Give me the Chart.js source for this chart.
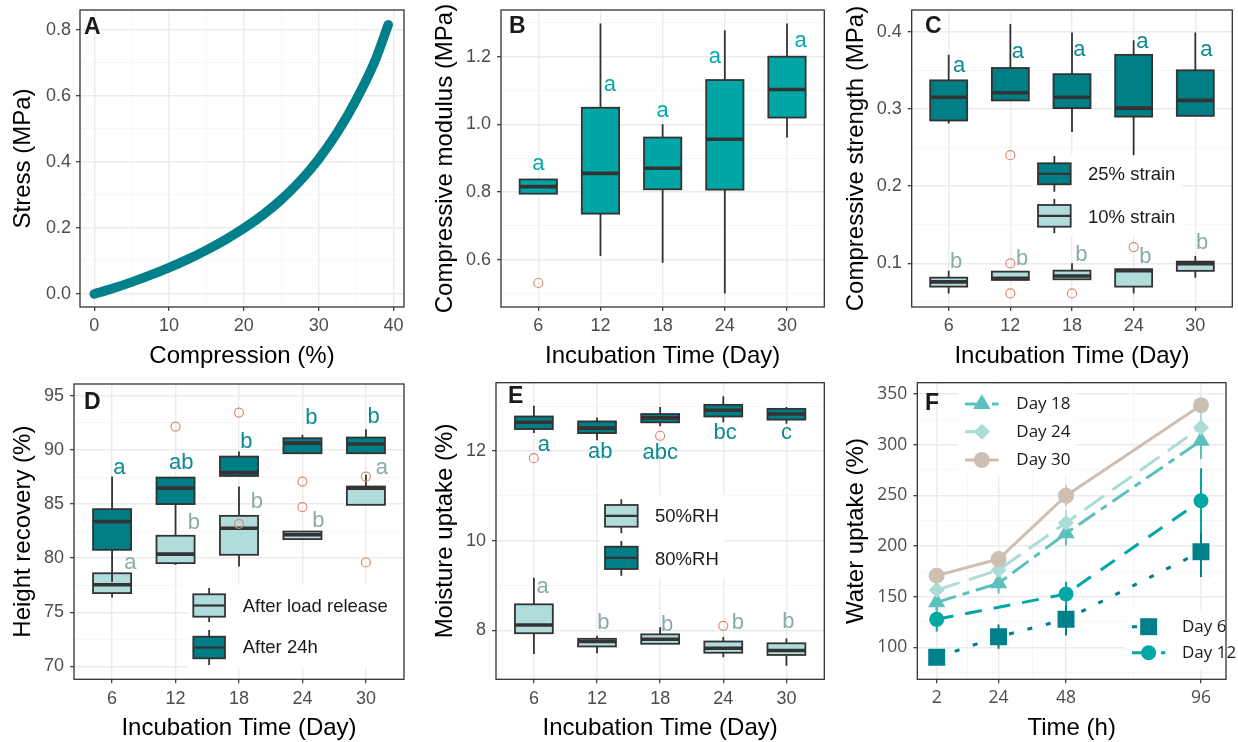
<!DOCTYPE html>
<html>
<head>
<meta charset="utf-8">
<script src="https://cdn.jsdelivr.net/npm/chart.js"></script>
<style>
  html, body { margin: 0; padding: 0; background: #ffffff; }
  #figure { position: relative; width: 1238px; height: 742px; overflow: hidden; background: #ffffff; }
  #figure canvas { position: absolute; }
</style>
</head>
<body>
<div id="figure">
  <canvas id="panelA" width="410" height="370" style="left:0px;top:0px"></canvas>
  <canvas id="panelB" width="420" height="370" style="left:410px;top:0px"></canvas>
  <canvas id="panelC" width="408" height="370" style="left:830px;top:0px"></canvas>
  <canvas id="panelD" width="410" height="372" style="left:0px;top:370px"></canvas>
  <canvas id="panelE" width="420" height="372" style="left:410px;top:370px"></canvas>
  <canvas id="panelF" width="408" height="372" style="left:830px;top:370px"></canvas>
</div>
<script>
// ---------------- data ----------------
const incubationDays = ['6', '12', '18', '24', '30'];

// A: stress-compression curve
const compression = [0, 2.5, 5, 7.5, 10, 12.5, 15, 17.5, 20, 22.5, 25, 27.5, 30, 32.5, 35, 37.5, 39.3];
const stress      = [0, 0.017, 0.036, 0.057, 0.080, 0.105, 0.133, 0.164, 0.199, 0.239, 0.286, 0.342, 0.409, 0.490, 0.588, 0.705, 0.816];

// B: compressive modulus (MPa), five-number summaries per incubation day
const modulusLow  = [0.795, 0.611, 0.591, 0.500, 0.961];
const modulusQ1   = [0.795, 0.736, 0.808, 0.807, 1.020];
const modulusMed  = [0.816, 0.855, 0.870, 0.956, 1.103];
const modulusQ3   = [0.837, 1.049, 0.961, 1.131, 1.200];
const modulusHigh = [0.837, 1.298, 1.000, 1.278, 1.298];
const modulusOutDay = [1];
const modulusOutVal = [0.531];
const modulusSig  = ['a', 'a', 'a', 'a', 'a'];
const modulusSigY = [0.882, 1.115, 1.041, 1.200, 1.248];

// C: compressive strength (MPa) at 25 % and 10 % strain
const strength25Low  = [0.281, 0.311, 0.270, 0.240, 0.291];
const strength25Q1   = [0.285, 0.311, 0.301, 0.290, 0.291];
const strength25Med  = [0.315, 0.321, 0.315, 0.301, 0.311];
const strength25Q3   = [0.337, 0.353, 0.345, 0.370, 0.350];
const strength25High = [0.370, 0.410, 0.399, 0.389, 0.399];
const strength10Low  = [0.061, 0.0785, 0.0793, 0.061, 0.0814];
const strength10Q1   = [0.0698, 0.0785, 0.0793, 0.0698, 0.0902];
const strength10Med  = [0.076, 0.0805, 0.0835, 0.0905, 0.0995];
const strength10Q3   = [0.0814, 0.0892, 0.0905, 0.0923, 0.1022];
const strength10High = [0.0905, 0.0892, 0.100, 0.0923, 0.1096];
const strengthOutDay = [2, 2, 2, 3, 4];
const strengthOutVal = [0.240, 0.100, 0.061, 0.061, 0.121];
const strength25Sig  = ['a', 'a', 'a', 'a', 'a'];
const strength25SigY = [0.355, 0.374, 0.377, 0.387, 0.376];
const strength10Sig  = ['b', 'b', 'b', 'b', 'b'];
const strength10SigY = [0.1022, 0.1053, 0.1108, 0.1086, 0.1267];

// D: height recovery (%)
const releaseLow  = [76.37, 79.38, 79.23, 81.76, 84.93];
const releaseQ1   = [76.77, 79.54, 80.31, 81.76, 84.93];
const releaseMed  = [77.54, 80.37, 82.77, 82.16, 86.47];
const releaseQ3   = [78.60, 82.07, 83.91, 82.46, 86.62];
const releaseHigh = [78.60, 82.07, 86.62, 82.46, 87.70];
const after24Low  = [77.80, 82.07, 87.60, 89.70, 89.70];
const after24Q1   = [80.77, 85.00, 87.60, 89.70, 89.70];
const after24Med  = [83.39, 86.47, 87.91, 90.63, 90.55];
const after24Q3   = [84.53, 87.45, 89.39, 91.09, 91.15];
const after24High = [87.54, 87.45, 89.85, 91.40, 91.92];
const recoveryOutDay = [2, 3, 3, 4, 4, 5, 5];
const recoveryOutVal = [92.16, 93.46, 83.17, 87.08, 84.72, 87.54, 79.60];
const after24Sig  = ['a', 'ab', 'b', 'b', 'b'];
const after24SigY = [88.32, 88.84, 90.78, 92.94, 93.03];
const releaseSig  = ['a', 'b', 'b', 'b', 'a'];
const releaseSigY = [79.60, 83.29, 85.24, 83.48, 88.32];

// E: moisture uptake (%)
const rh80Low  = [12.40, 12.24, 12.55, 12.64, 12.61];
const rh80Q1   = [12.49, 12.40, 12.64, 12.77, 12.70];
const rh80Med  = [12.64, 12.51, 12.74, 12.91, 12.825];
const rh80Q3   = [12.77, 12.66, 12.825, 13.03, 12.94];
const rh80High = [13.01, 12.75, 12.98, 13.22, 12.98];
const rh50Low  = [7.47, 7.49, 7.70, 7.40, 7.21];
const rh50Q1   = [7.935, 7.64, 7.70, 7.50, 7.45];
const rh50Med  = [8.12, 7.75, 7.80, 7.60, 7.55];
const rh50Q3   = [8.58, 7.81, 7.91, 7.75, 7.71];
const rh50High = [9.175, 7.88, 8.07, 7.85, 7.82];
const moistureOutDay = [1, 3, 4];
const moistureOutVal = [11.84, 12.34, 8.10];
const rh80Sig  = ['a', 'ab', 'abc', 'bc', 'c'];
const rh80SigY = [12.14, 11.99, 11.955, 12.40, 12.40];
const rh50Sig  = ['a', 'b', 'b', 'b', 'b'];
const rh50SigY = [8.96, 8.16, 8.12, 8.16, 8.19];

// F: water uptake (%) over soaking time, mean and SD per incubation day
const waterHours  = [2, 24, 48, 96];
const day6Uptake  = [90.1, 110.5, 127.6, 194.3];
const day6Sd      = [4, 12, 16, 25];
const day12Uptake = [127.6, null, 152.6, 244.7];
const day12Sd     = [12, null, 12, 32];
const day18Uptake = [144.4, 163.2, 212.5, 303.9];
const day18Sd     = [10, 10, 12, 18];
const day24Uptake = [156.5, 176.3, 223.0, 317.0];
const day24Sd     = [8, 8, 12, 17];
const day30Uptake = [170.7, 187.1, 249.6, 339.0];
const day30Sd     = [5, 5, 10, 5];

// ---------------- styling ----------------
const SANS = '"Liberation Sans", Arial, Helvetica, sans-serif';
const OPEN = '"Open Sans", "Liberation Sans", sans-serif';
const INK = '#333333';
const GRID_MAJOR = '#ebebeb';
const GRID_MINOR = '#f4f4f4';
const OUTLIER = '#d98b74';
const TEAL_DARK = '#007e86';
const TEAL_MID = '#00a6a6';
const TEAL_LIGHT = '#b0dcdb';
const SIG_MID = '#00abab';
const SIG_DARK = '#0c8993';
const SIG_LIGHT = '#88aca9';

Chart.defaults.font.family = SANS;

// Linear axis with ggplot-like major/minor grid and fixed box size.
function linearAxis(o) {
  const key = v => Math.round(v * 1e6);
  const majors = new Set(o.major.map(key));
  const isMajor = v => majors.has(key(v));
  const values = o.major.concat(o.minor || []).sort((a, b) => a - b);
  const horiz = o.pos === 'x';
  const tickMajor = c => !!(c && c.tick && isMajor(c.tick.value));
  return {
    type: 'linear',
    position: horiz ? 'bottom' : 'left',
    min: o.min, max: o.max,
    afterBuildTicks: s => { s.ticks = values.map(v => ({ value: v })); },
    afterFit: s => {
      if (horiz) s.height = o.size; else s.width = o.size;
      s.paddingTop = 0; s.paddingBottom = 0; s.paddingLeft = 0; s.paddingRight = 0;
    },
    border: { display: false },
    grid: {
      color: c => tickMajor(c) ? GRID_MAJOR : GRID_MINOR,
      lineWidth: c => tickMajor(c) ? 1.4 : 0.8,
      tickColor: c => tickMajor(c) ? INK : 'rgba(0,0,0,0)',
      tickWidth: 1.2,
      tickLength: 4,
      drawTicks: true
    },
    ticks: {
      autoSkip: false, maxRotation: 0, minRotation: 0,
      padding: o.tickPad,
      color: '#4d4d4d',
      font: { size: o.tickSize || 18, family: o.tickFamily || SANS },
      callback: v => isMajor(v) ? o.fmt(v) : ''
    },
    title: {
      display: true, text: o.title, color: '#000000',
      font: { size: 24, family: SANS },
      padding: horiz ? { top: 0, bottom: o.titlePad } : { top: o.titlePad, bottom: 0 }
    }
  };
}

// Panel frame and tag letter.
function framePlugin(tag, tx, ty) {
  return {
    id: 'frame',
    afterDraw(chart) {
      const { ctx, chartArea: a } = chart;
      ctx.save();
      ctx.strokeStyle = INK;
      ctx.lineWidth = 1.3;
      ctx.strokeRect(a.left, a.top, a.right - a.left, a.bottom - a.top);
      ctx.fillStyle = '#1a1a1a';
      ctx.font = 'bold 23px ' + SANS;
      ctx.textAlign = 'left';
      ctx.textBaseline = 'alphabetic';
      ctx.fillText(tag, tx, ty);
      ctx.restore();
    }
  };
}

// Box-and-whisker series drawn through the chart scales.
function drawBoxSeries(chart, s) {
  const { ctx, scales: { x, y } } = chart;
  ctx.save();
  s.med.forEach((m, i) => {
    const cx = x.getPixelForValue(i + 1);
    const hw = x.getPixelForValue(i + 1 + 0.3) - cx;
    const yLow = y.getPixelForValue(s.low[i]);
    const yQ1 = y.getPixelForValue(s.q1[i]);
    const yMed = y.getPixelForValue(m);
    const yQ3 = y.getPixelForValue(s.q3[i]);
    const yHigh = y.getPixelForValue(s.high[i]);
    ctx.strokeStyle = INK;
    ctx.lineWidth = 1.8;
    ctx.beginPath();
    ctx.moveTo(cx, yHigh); ctx.lineTo(cx, yQ3);
    ctx.moveTo(cx, yQ1); ctx.lineTo(cx, yLow);
    ctx.stroke();
    ctx.fillStyle = s.fill;
    ctx.fillRect(cx - hw, yQ3, 2 * hw, yQ1 - yQ3);
    ctx.strokeRect(cx - hw, yQ3, 2 * hw, yQ1 - yQ3);
    ctx.lineWidth = 3.6;
    ctx.beginPath();
    ctx.moveTo(cx - hw, yMed); ctx.lineTo(cx + hw, yMed);
    ctx.stroke();
  });
  ctx.restore();
}

function drawLetters(chart, g) {
  const { ctx, scales: { x, y } } = chart;
  ctx.save();
  ctx.fillStyle = g.color;
  ctx.font = '22px ' + SANS;
  ctx.textAlign = 'center';
  ctx.textBaseline = 'middle';
  g.text.forEach((t, i) => {
    ctx.fillText(t, x.getPixelForValue(i + 1 + g.nudge[i]), y.getPixelForValue(g.y[i]));
  });
  ctx.restore();
}

function drawBoxLegend(ctx, lg) {
  ctx.save();
  lg.items.forEach(it => {
    const cx = (lg.x0 + lg.x1) / 2;
    const ym = (it.bt + it.bb) / 2;
    ctx.strokeStyle = INK;
    ctx.lineWidth = 1.8;
    ctx.beginPath();
    ctx.moveTo(cx, it.wt); ctx.lineTo(cx, it.bt);
    ctx.moveTo(cx, it.bb); ctx.lineTo(cx, it.wb);
    ctx.stroke();
    ctx.fillStyle = it.fill;
    ctx.fillRect(lg.x0, it.bt, lg.x1 - lg.x0, it.bb - it.bt);
    ctx.strokeRect(lg.x0, it.bt, lg.x1 - lg.x0, it.bb - it.bt);
    ctx.lineWidth = 2.2;
    ctx.beginPath();
    ctx.moveTo(lg.x0, ym); ctx.lineTo(lg.x1, ym);
    ctx.stroke();
    ctx.fillStyle = '#1a1a1a';
    ctx.font = '18.5px ' + SANS;
    ctx.textAlign = 'left';
    ctx.textBaseline = 'middle';
    ctx.fillText(it.label, lg.tx, it.ty);
  });
  ctx.restore();
}

function boxPlotPlugin(series, letters, legend) {
  return {
    id: 'boxplot',
    beforeDatasetsDraw(chart) {
      const ctx = chart.ctx;
      ctx.save();
      ctx.fillStyle = '#ffffff';
      ctx.fillRect(legend.bg[0], legend.bg[1], legend.bg[2], legend.bg[3]);
      ctx.restore();
      series.forEach(s => drawBoxSeries(chart, s));
    },
    afterDatasetsDraw(chart) {
      letters.forEach(g => drawLetters(chart, g));
    },
    afterDraw(chart) {
      drawBoxLegend(chart.ctx, legend);
    }
  };
}

function outlierDataset(days, vals) {
  return {
    type: 'scatter',
    data: days.map((d, i) => ({ x: d, y: vals[i] })),
    pointStyle: 'circle',
    pointRadius: 4.5,
    pointBorderWidth: 1.2,
    pointBorderColor: OUTLIER,
    pointBackgroundColor: 'rgba(0,0,0,0)',
    showLine: false
  };
}

function buildPanel(id, area, cfg) {
  const canvas = document.getElementById(id);
  const w = canvas.width, h = canvas.height;
  return new Chart(canvas, {
    type: cfg.type,
    data: { datasets: cfg.datasets },
    options: {
      responsive: false,
      animation: false,
      devicePixelRatio: 1,
      events: [],
      layout: { padding: { left: 0, top: area.t, right: w - area.r, bottom: 0 } },
      plugins: { legend: { display: false }, tooltip: { enabled: false } },
      scales: {
        x: linearAxis(Object.assign({ pos: 'x', size: h - area.b }, cfg.x)),
        y: linearAxis(Object.assign({ pos: 'y', size: area.l }, cfg.y))
      }
    },
    plugins: cfg.plugins
  });
}

const dayAxis = {
  min: 0.4, max: 5.6, major: [1, 2, 3, 4, 5], minor: [],
  fmt: v => incubationDays[Math.round(v) - 1],
  title: 'Incubation Time (Day)', tickPad: 4.5, titlePad: -1
};
const fixed1 = v => v.toFixed(1);
const whole = v => String(Math.round(v));

// ---------------- A ----------------
buildPanel('panelA', { l: 80, t: 10, r: 404, b: 307 }, {
  type: 'line',
  datasets: [{
    data: compression.map((c, i) => ({ x: c, y: stress[i] })),
    borderColor: '#00808a',
    borderWidth: 9.5,
    borderCapStyle: 'round',
    borderJoinStyle: 'round',
    cubicInterpolationMode: 'monotone',
    pointRadius: 0,
    fill: false
  }],
  x: { min: -1.9, max: 41.4, major: [0, 10, 20, 30, 40], minor: [5, 15, 25, 35], fmt: whole,
       title: 'Compression (%)', tickPad: 4.5, titlePad: -1 },
  y: { min: -0.0394, max: 0.8606, major: [0, 0.2, 0.4, 0.6, 0.8], minor: [0.1, 0.3, 0.5, 0.7], fmt: fixed1,
       title: 'Stress (MPa)', tickPad: 5, titlePad: 8.6 },
  plugins: [framePlugin('A', 84, 34)]
});

// ---------------- B ----------------
buildPanel('panelB', { l: 91, t: 10, r: 415, b: 307 }, {
  type: 'scatter',
  datasets: [outlierDataset(modulusOutDay, modulusOutVal)],
  x: dayAxis,
  y: { min: 0.460, max: 1.338, major: [0.6, 0.8, 1.0, 1.2], minor: [0.5, 0.7, 0.9, 1.1, 1.3], fmt: fixed1,
       title: 'Compressive modulus (MPa)', tickPad: 6, titlePad: 20.6 },
  plugins: [
    {
      id: 'modulusBoxes',
      beforeDatasetsDraw(chart) {
        drawBoxSeries(chart, { low: modulusLow, q1: modulusQ1, med: modulusMed, q3: modulusQ3, high: modulusHigh, fill: TEAL_MID });
      },
      afterDatasetsDraw(chart) {
        drawLetters(chart, { text: modulusSig, y: modulusSigY, nudge: [0, 0.15, 0, -0.16, 0.22], color: SIG_MID });
      }
    },
    framePlugin('B', 99, 33)
  ]
});

// ---------------- C ----------------
buildPanel('panelC', { l: 81.7, t: 10, r: 406.7, b: 307 }, {
  type: 'scatter',
  datasets: [outlierDataset(strengthOutDay, strengthOutVal)],
  x: dayAxis,
  y: { min: 0.0434, max: 0.4281, major: [0.1, 0.2, 0.3, 0.4], minor: [0.05, 0.15, 0.25, 0.35], fmt: fixed1,
       title: 'Compressive strength (MPa)', tickPad: 6, titlePad: 12.3 },
  plugins: [
    boxPlotPlugin(
      [
        { low: strength10Low, q1: strength10Q1, med: strength10Med, q3: strength10Q3, high: strength10High, fill: TEAL_LIGHT },
        { low: strength25Low, q1: strength25Q1, med: strength25Med, q3: strength25Q3, high: strength25High, fill: TEAL_DARK }
      ],
      [
        { text: strength25Sig, y: strength25SigY, nudge: [0.17, 0.12, 0.12, 0.14, 0.18], color: SIG_DARK },
        { text: strength10Sig, y: strength10SigY, nudge: [0.12, 0.19, 0.15, 0.19, 0.11], color: SIG_LIGHT }
      ],
      {
        bg: [203, 154, 149, 82], x0: 208, x1: 240.7, tx: 258,
        items: [
          { label: '25% strain', fill: TEAL_DARK, wt: 156, bt: 163.3, bb: 184.3, wb: 191.7, ty: 175 },
          { label: '10% strain', fill: TEAL_LIGHT, wt: 199, bt: 205, bb: 226.7, wb: 233.3, ty: 217.5 }
        ]
      }
    ),
    framePlugin('C', 95, 33)
  ]
});

// ---------------- D ----------------
buildPanel('panelD', { l: 74, t: 14, r: 404, b: 309.3 }, {
  type: 'scatter',
  datasets: [outlierDataset(recoveryOutDay, recoveryOutVal)],
  x: dayAxis,
  y: { min: 68.8, max: 96.1, major: [70, 75, 80, 85, 90, 95], minor: [72.5, 77.5, 82.5, 87.5, 92.5], fmt: whole,
       title: 'Height recovery (%)', tickPad: 6, titlePad: 8.9 },
  plugins: [
    boxPlotPlugin(
      [
        { low: releaseLow, q1: releaseQ1, med: releaseMed, q3: releaseQ3, high: releaseHigh, fill: TEAL_LIGHT },
        { low: after24Low, q1: after24Q1, med: after24Med, q3: after24Q3, high: after24High, fill: TEAL_DARK }
      ],
      [
        { text: after24Sig, y: after24SigY, nudge: [0.115, 0.09, 0.115, 0.14, 0.12], color: SIG_DARK },
        { text: releaseSig, y: releaseSigY, nudge: [0.29, 0.29, 0.28, 0.25, 0.25], color: SIG_LIGHT }
      ],
      {
        bg: [188, 215, 216, 83], x0: 193.3, x1: 225, tx: 242.7,
        items: [
          { label: 'After load release', fill: TEAL_LIGHT, wt: 218, bt: 224.3, bb: 246.7, wb: 252, ty: 236.5 },
          { label: 'After 24h', fill: TEAL_DARK, wt: 260, bt: 266.7, bb: 288.3, wb: 295, ty: 278.3 }
        ]
      }
    ),
    framePlugin('D', 84, 39)
  ]
});

// ---------------- E ----------------
buildPanel('panelE', { l: 86, t: 12.7, r: 415, b: 309.3 }, {
  type: 'scatter',
  datasets: [outlierDataset(moistureOutDay, moistureOutVal)],
  x: dayAxis,
  y: { min: 6.907, max: 13.524, major: [8, 10, 12], minor: [7, 9, 11, 13], fmt: whole,
       title: 'Moisture uptake (%)', tickPad: 6, titlePad: 20.6 },
  plugins: [
    boxPlotPlugin(
      [
        { low: rh50Low, q1: rh50Q1, med: rh50Med, q3: rh50Q3, high: rh50High, fill: TEAL_LIGHT },
        { low: rh80Low, q1: rh80Q1, med: rh80Med, q3: rh80Q3, high: rh80High, fill: TEAL_DARK }
      ],
      [
        { text: rh80Sig, y: rh80SigY, nudge: [0.16, 0.05, 0, 0.03, 0], color: SIG_DARK },
        { text: rh50Sig, y: rh50SigY, nudge: [0.14, 0.10, 0.11, 0.23, 0.03], color: SIG_LIGHT }
      ],
      {
        bg: [190, 125, 125, 83], x0: 195, x1: 227.7, tx: 245,
        items: [
          { label: '50%RH', fill: TEAL_LIGHT, wt: 129.3, bt: 135, bb: 156.7, wb: 163.3, ty: 146.7 },
          { label: '80%RH', fill: TEAL_DARK, wt: 171, bt: 176.7, bb: 199, wb: 205.7, ty: 189.5 }
        ]
      }
    ),
    framePlugin('E', 98, 33)
  ]
});

// ---------------- F ----------------
const waterSeries = [
  { label: 'Day 6',  mean: day6Uptake,  sd: day6Sd,  color: '#00808a', dash: [5, 14],         point: 'rect',     radius: 12 },
  { label: 'Day 12', mean: day12Uptake, sd: day12Sd, color: '#00a8a5', dash: [17, 12],        point: 'circle',   radius: 7.5 },
  { label: 'Day 18', mean: day18Uptake, sd: day18Sd, color: '#5cc0bc', dash: [20, 7, 7, 7],   point: 'triangle', radius: 10 },
  { label: 'Day 24', mean: day24Uptake, sd: day24Sd, color: '#abdcd8', dash: [24, 10],        point: 'rectRot',  radius: 8 },
  { label: 'Day 30', mean: day30Uptake, sd: day30Sd, color: '#cdbfb2', dash: [],              point: 'circle',   radius: 8 }
];

function drawMarker(ctx, style, x, y, r) {
  ctx.beginPath();
  if (style === 'circle') {
    ctx.arc(x, y, r, 0, Math.PI * 2);
  } else if (style === 'rect') {
    const s = Math.SQRT1_2 * r;
    ctx.rect(x - s, y - s, 2 * s, 2 * s);
  } else if (style === 'triangle') {
    for (let k = 0; k < 3; k++) {
      const ang = k * 2 * Math.PI / 3;
      const px = x + Math.sin(ang) * r, py = y - Math.cos(ang) * r;
      if (k === 0) ctx.moveTo(px, py); else ctx.lineTo(px, py);
    }
    ctx.closePath();
  } else if (style === 'rectRot') {
    ctx.moveTo(x - r, y); ctx.lineTo(x, y - r); ctx.lineTo(x + r, y); ctx.lineTo(x, y + r);
    ctx.closePath();
  }
  ctx.fill();
}

const waterLegends = [
  { bg: [128, 14, 117, 92], x0: 135, x1: 168.7, tx: 186.3, entries: [[2, 34], [3, 61.7], [4, 90]] },
  { bg: [295, 241, 113, 59], x0: 302, x1: 335.3, tx: 352, entries: [[0, 256.7], [1, 282.7]] }
];

buildPanel('panelF', { l: 87.3, t: 12.7, r: 405, b: 309.3 }, {
  type: 'line',
  datasets: waterSeries.slice().reverse().map(s => ({
    label: s.label,
    data: waterHours.map((hr, i) => ({ x: hr, y: s.mean[i] })),
    spanGaps: true,
    borderColor: s.color,
    borderWidth: 3,
    borderDash: s.dash,
    pointStyle: s.point,
    pointRadius: s.radius,
    pointBorderWidth: 0,
    pointBackgroundColor: s.color,
    pointBorderColor: s.color,
    fill: false
  })),
  x: { min: -4.9, max: 104.9, major: [2, 24, 48, 96], minor: [13, 36, 72], fmt: whole,
       title: 'Time (h)', tickPad: 4.5, titlePad: -1, tickFamily: OPEN, tickSize: 17.5 },
  y: { min: 68.42, max: 361.15, major: [100, 150, 200, 250, 300, 350], minor: [75, 125, 175, 225, 275, 325], fmt: whole,
       title: 'Water uptake (%)', tickPad: 6, titlePad: 12.3, tickFamily: OPEN, tickSize: 17.5 },
  plugins: [
    {
      id: 'waterErrors',
      beforeDatasetsDraw(chart) {
        const { ctx, scales: { x, y } } = chart;
        ctx.save();
        ctx.fillStyle = '#ffffff';
        waterLegends.forEach(lg => ctx.fillRect(lg.bg[0], lg.bg[1], lg.bg[2], lg.bg[3]));
        ctx.lineWidth = 2;
        waterSeries.forEach(s => {
          ctx.strokeStyle = s.color;
          s.mean.forEach((m, i) => {
            if (m === null) return;
            const px = x.getPixelForValue(waterHours[i]);
            ctx.beginPath();
            ctx.moveTo(px, y.getPixelForValue(m - s.sd[i]));
            ctx.lineTo(px, y.getPixelForValue(m + s.sd[i]));
            ctx.stroke();
          });
        });
        ctx.restore();
      },
      afterDraw(chart) {
        const ctx = chart.ctx;
        ctx.save();
        waterLegends.forEach(lg => {
          lg.entries.forEach(([idx, yy]) => {
            const s = waterSeries[idx];
            ctx.strokeStyle = s.color;
            ctx.fillStyle = s.color;
            ctx.lineWidth = 3;
            ctx.setLineDash(s.dash);
            ctx.beginPath();
            ctx.moveTo(lg.x0, yy); ctx.lineTo(lg.x1, yy);
            ctx.stroke();
            ctx.setLineDash([]);
            drawMarker(ctx, s.point, (lg.x0 + lg.x1) / 2, yy, s.radius);
            ctx.fillStyle = '#1a1a1a';
            ctx.font = '17px ' + OPEN;
            ctx.textAlign = 'left';
            ctx.textBaseline = 'middle';
            ctx.fillText(s.label, lg.tx, yy);
          });
        });
        ctx.restore();
      }
    },
    framePlugin('F', 95, 40)
  ]
});
</script>
</body>
</html>
